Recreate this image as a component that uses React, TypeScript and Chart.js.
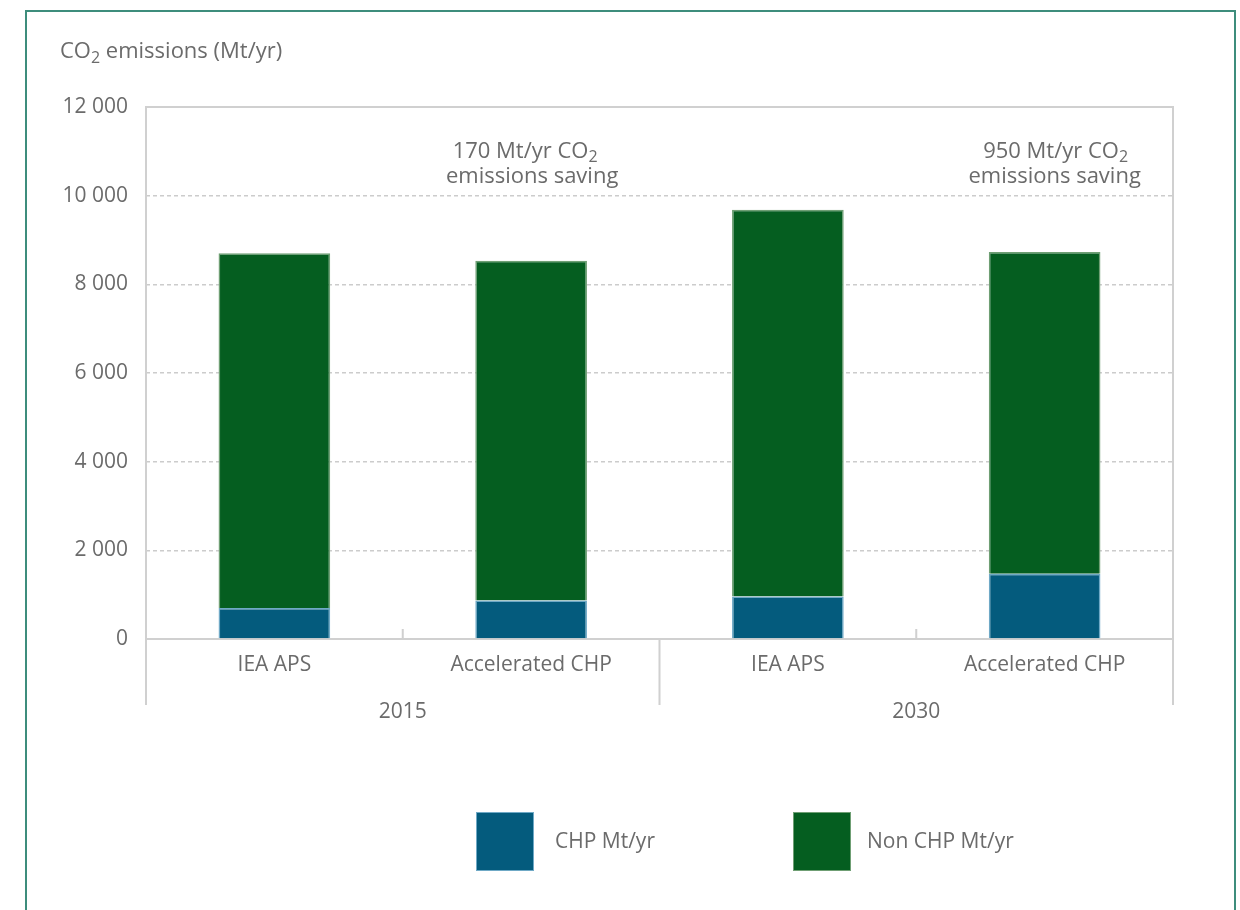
import React, { useEffect, useRef } from 'react';
import { Chart, registerables } from 'chart.js';

Chart.register(...registerables);

// ---- data ----
const categories = ['IEA APS', 'Accelerated CHP', 'IEA APS', 'Accelerated CHP'];
const groupLabels = ['2015', '2030'];
const chpValues = [700, 870, 960, 1470];
const nonChpValues = [8000, 7660, 8720, 7260];
const seriesNames = ['CHP Mt/yr', 'Non CHP Mt/yr'];
const seriesColors = ['#045b7d', '#055e20'];
const seriesBorders = ['#6fa9c6', '#6f9f74'];
const yMin = 0;
const yMax = 12000;
const yStep = 2000;
const savingsValues = [170, 950];
const savingsCategoryIndex = [1, 3];
const savingsLineValues = [11000, 10430];

const FONT = "'Open Sans', sans-serif";
const TEXT = '#6b6b6b';
const LINE = '#d0d0d0';

function fmt(v: number): string {
  return String(v).replace(/\B(?=(\d{3})+(?!\d))/g, ' ');
}

function drawSub(
  ctx: CanvasRenderingContext2D,
  before: string,
  sub: string,
  after: string,
  x: number,
  y: number,
  size: number,
  align: 'left' | 'center'
) {
  const main = `${size}px ${FONT}`;
  const small = `${Math.round(size * 0.72)}px ${FONT}`;
  ctx.font = main;
  const w1 = ctx.measureText(before).width;
  const w3 = ctx.measureText(after).width;
  ctx.font = small;
  const w2 = ctx.measureText(sub).width;
  const total = w1 + w2 + w3;
  let sx = align === 'center' ? x - total / 2 : x;
  ctx.textAlign = 'left';
  ctx.textBaseline = 'middle';
  ctx.font = main;
  ctx.fillText(before, sx, y);
  sx += w1;
  ctx.font = small;
  ctx.fillText(sub, sx, y + size * 0.3);
  sx += w2;
  ctx.font = main;
  ctx.fillText(after, sx, y);
}

const annotationOffsets = [
  [-6, 1],
  [11, 10],
];

const decorPlugin = {
  id: 'decor',
  beforeDraw(chart: any) {
    const ctx = chart.ctx as CanvasRenderingContext2D;
    ctx.save();
    ctx.fillStyle = '#ffffff';
    ctx.fillRect(0, 0, chart.width, chart.height);
    ctx.strokeStyle = '#3e8d7c';
    ctx.lineWidth = 2;
    ctx.strokeRect(26, 11, 1209, 940);
    ctx.restore();
  },
  beforeDatasetsDraw(chart: any) {
    const ctx = chart.ctx as CanvasRenderingContext2D;
    const ca = chart.chartArea;
    const x = chart.scales.x;
    const y = chart.scales.y;
    const y0 = y.getPixelForValue(0);
    const groupBottom = y0 + 66;
    ctx.save();
    ctx.strokeStyle = LINE;
    ctx.lineWidth = 2;
    ctx.beginPath();
    ctx.moveTo(ca.left, groupBottom);
    ctx.lineTo(ca.left, ca.top);
    ctx.lineTo(ca.right, ca.top);
    ctx.lineTo(ca.right, groupBottom);
    ctx.moveTo(ca.left, y0);
    ctx.lineTo(ca.right, y0);
    const sep = (x.getPixelForValue(1) + x.getPixelForValue(2)) / 2;
    ctx.moveTo(sep, y0);
    ctx.lineTo(sep, groupBottom);
    const t1 = (x.getPixelForValue(0) + x.getPixelForValue(1)) / 2;
    const t2 = (x.getPixelForValue(2) + x.getPixelForValue(3)) / 2;
    ctx.moveTo(t1, y0);
    ctx.lineTo(t1, y0 - 10);
    ctx.moveTo(t2, y0);
    ctx.lineTo(t2, y0 - 10);
    ctx.stroke();
    ctx.restore();
  },
  afterDraw(chart: any) {
    const ctx = chart.ctx as CanvasRenderingContext2D;
    const x = chart.scales.x;
    const y = chart.scales.y;
    const y0 = y.getPixelForValue(0);
    ctx.save();
    ctx.fillStyle = TEXT;
    drawSub(ctx, 'CO', '2', ' emissions (Mt/yr)', 60, 52, 22, 'left');
    ctx.font = `21px ${FONT}`;
    ctx.textAlign = 'center';
    ctx.textBaseline = 'middle';
    groupLabels.forEach((g, i) => {
      const cx = (x.getPixelForValue(i * 2) + x.getPixelForValue(i * 2 + 1)) / 2;
      ctx.fillText(g, cx, y0 + 73);
    });
    savingsValues.forEach((v, i) => {
      const cx = x.getPixelForValue(savingsCategoryIndex[i]);
      const off = annotationOffsets[i];
      drawSub(ctx, `${v} Mt/yr CO`, '2', '', cx + off[0], y.getPixelForValue(savingsLineValues[0]), 22, 'center');
      ctx.font = `22px ${FONT}`;
      ctx.textAlign = 'center';
      ctx.textBaseline = 'middle';
      ctx.fillText('emissions saving', cx + off[1], y.getPixelForValue(savingsLineValues[1]));
    });
    const legendX = [476, 793];
    const legendTextX = [555, 867];
    seriesNames.forEach((name, i) => {
      ctx.fillStyle = seriesBorders[i];
      ctx.fillRect(legendX[i], 812, 58, 59);
      ctx.fillStyle = seriesColors[i];
      ctx.fillRect(legendX[i] + 1, 813, 56, 57);
      ctx.fillStyle = TEXT;
      ctx.font = `21px ${FONT}`;
      ctx.textAlign = 'left';
      ctx.textBaseline = 'middle';
      ctx.fillText(name, legendTextX[i], 842);
    });
    ctx.restore();
  },
};

export default function App() {
  const ref = useRef<HTMLCanvasElement | null>(null);
  useEffect(() => {
    if (!ref.current) return;
    const chart = new Chart(ref.current, {
      type: 'bar',
      data: {
        labels: categories,
        datasets: [
          {
            label: seriesNames[0],
            data: chpValues,
            backgroundColor: seriesColors[0],
            borderColor: seriesBorders[0],
            borderWidth: 1.5,
            categoryPercentage: 1,
            barPercentage: 0.435,
          },
          {
            label: seriesNames[1],
            data: nonChpValues,
            backgroundColor: seriesColors[1],
            borderColor: seriesBorders[1],
            borderWidth: 1.5,
            categoryPercentage: 1,
            barPercentage: 0.435,
          },
        ],
      },
      plugins: [decorPlugin],
      options: {
        animation: false,
        responsive: false,
        layout: { padding: { left: 0, top: 107, right: 67, bottom: 0 } },
        plugins: {
          legend: { display: false },
          tooltip: { enabled: false },
          title: { display: false },
        },
        scales: {
          x: {
            stacked: true,
            grid: { display: false },
            border: { display: false },
            ticks: { color: TEXT, font: { family: FONT, size: 21 }, padding: 5, maxRotation: 0 },
            afterFit: (s: any) => {
              s.height = 271;
            },
          },
          y: {
            stacked: true,
            min: yMin,
            max: yMax,
            ticks: {
              stepSize: yStep,
              color: TEXT,
              font: { family: FONT, size: 21 },
              padding: 18,
              callback: (v: any) => fmt(Number(v)),
            },
            grid: {
              drawTicks: false,
              color: (c: any) =>
                c.tick && (c.tick.value === yMin || c.tick.value === yMax) ? 'rgba(0,0,0,0)' : '#cccccc',
              lineWidth: 1.5,
            },
            border: { display: false, dash: [4, 3] },
            afterFit: (s: any) => {
              s.width = 146;
            },
          },
        },
      } as any,
    });
    return () => chart.destroy();
  }, []);
  return (
    <div style={{ position: 'absolute', left: 0, top: 0, width: 1240, height: 910 }}>
      <canvas ref={ref} width={1240} height={910} />
    </div>
  );
}
